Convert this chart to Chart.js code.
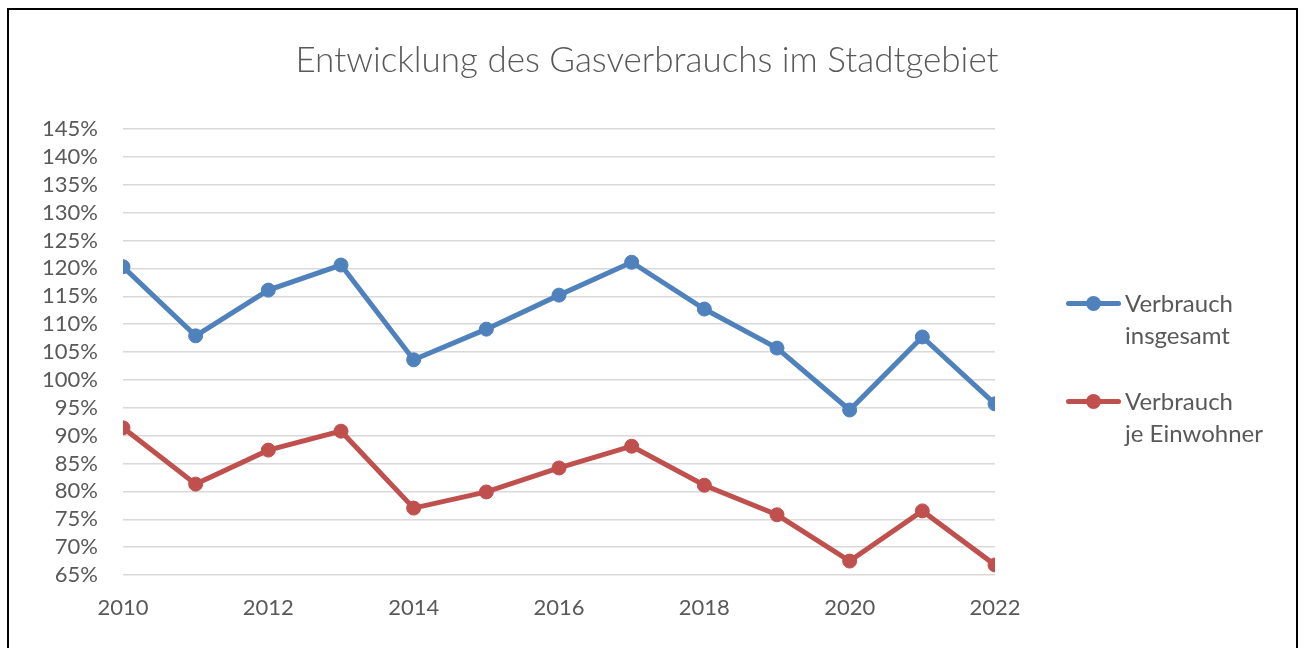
<!DOCTYPE html>
<html>
<head>
<meta charset="utf-8">
<script src="https://cdn.jsdelivr.net/npm/chart.js@4.4.0/dist/chart.umd.min.js"></script>
<style>
  body { margin: 0; background: #fff; font-family: Lato, sans-serif; }
  #rahmen { position: absolute; left: 7px; top: 8px; width: 1291px; height: 700px; border: 2px solid #000; box-sizing: border-box; }
  #wrap { position: absolute; left: 0; top: 0; width: 1306px; height: 648px; }
  #legende { position: absolute; left: 1066px; top: 287px; list-style: none; margin: 0; padding: 0; }
  #legende li { display: flex; align-items: flex-start; margin-bottom: 34px; }
  #legende .symbol { position: relative; width: 55px; height: 32px; margin-right: 4px; }
  #legende .symbol .linie { position: absolute; left: 0; right: 0; top: 14px; height: 5px; border-radius: 3px; }
  #legende .symbol .punkt { position: absolute; left: 20px; top: 9px; width: 15px; height: 15px; border-radius: 50%; }
  #legende .text { font-size: 24px; color: #595959; line-height: 32px; white-space: pre-line; }
</style>
</head>
<body>
<div id="wrap"><canvas id="gasChart" width="1306" height="648"></canvas></div>
<div id="rahmen"></div>
<ul id="legende"></ul>
<script>
// Daten
const jahre = [2010, 2011, 2012, 2013, 2014, 2015, 2016, 2017, 2018, 2019, 2020, 2021, 2022];
const verbrauchInsgesamt = [120.3, 107.9, 116.1, 120.6, 103.6, 109.1, 115.2, 121.1, 112.7, 105.7, 94.6, 107.7, 95.7];
const verbrauchJeEinwohner = [91.4, 81.3, 87.4, 90.8, 77.0, 79.9, 84.2, 88.1, 81.1, 75.8, 67.5, 76.5, 66.8];
const serien = ["Verbrauch\ninsgesamt", "Verbrauch\nje Einwohner"];
const cores = ["#4F81BD", "#C0504D"];
const yMin = 65, yMax = 145, yStep = 5;
const titel = "Entwicklung des Gasverbrauchs im Stadtgebiet";

const grau = "#595959";

function punkte(werte) {
  return jahre.map((j, i) => ({ x: j, y: werte[i] }));
}

// Titel mittig im Rahmen (nicht nur über dem Plotbereich)
const titelPlugin = {
  id: "titelMitte",
  afterDraw(chart) {
    const c = chart.ctx;
    c.save();
    c.fillStyle = grau;
    c.font = "300 35px Lato";
    c.textAlign = "center";
    c.textBaseline = "middle";
    c.fillText(titel, 647, 61);
    c.restore();
  }
};

const ctx = document.getElementById("gasChart").getContext("2d");

const chartGas = new Chart(ctx, {
  type: "line",
  data: {
    datasets: [verbrauchInsgesamt, verbrauchJeEinwohner].map((werte, i) => ({
      label: serien[i],
      data: punkte(werte),
      borderColor: cores[i],
      backgroundColor: cores[i],
      borderWidth: 5,
      pointRadius: 7,
      pointBorderWidth: 1,
      pointBackgroundColor: cores[i],
      pointBorderColor: cores[i],
      tension: 0
    }))
  },
  options: {
    responsive: false,
    animation: false,
    layout: { padding: { left: 0, right: 311, top: 129, bottom: 0 } },
    plugins: {
      legend: { display: false },
      tooltip: { enabled: false },
      title: { display: false }
    },
    scales: {
      x: {
        type: "linear",
        min: jahre[0],
        max: jahre[jahre.length - 1],
        grid: { display: false, drawTicks: false },
        border: { display: false },
        ticks: {
          stepSize: 2,
          color: grau,
          font: { family: "Lato", size: 22 },
          padding: 20,
          callback: v => String(v)
        },
        afterFit: s => { s.height = 73; }
      },
      y: {
        min: yMin,
        max: yMax,
        grid: { color: "#d9d9d9", lineWidth: 1.5, drawTicks: false },
        border: { display: false },
        ticks: {
          stepSize: yStep,
          autoSkip: false,
          color: grau,
          font: { family: "Lato", size: 22 },
          padding: 25,
          callback: v => v + "%"
        },
        afterFit: s => { s.width = 123; }
      }
    }
  },
  plugins: [titelPlugin]
});

function atualizarLegenda() {
  const lista = document.getElementById("legende");
  lista.innerHTML = "";
  chartGas.data.datasets.forEach((ds, i) => {
    lista.innerHTML += `
      <li>
        <span class="symbol"><span class="linie" style="background:${cores[i]}"></span><span class="punkt" style="background:${cores[i]}"></span></span>
        <span class="text">${ds.label}</span>
      </li>`;
  });
}
atualizarLegenda();
</script>
</body>
</html>
